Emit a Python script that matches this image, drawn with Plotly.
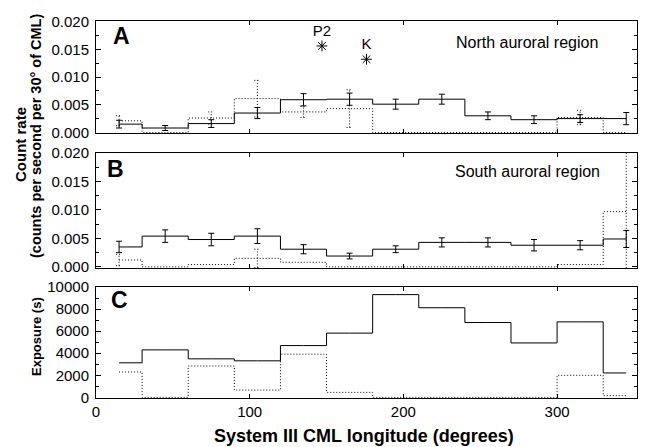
import plotly.graph_objects as go

# ---- data ----
cml = [15, 45, 75, 105, 135, 165, 195, 225, 255, 285, 315, 345]

north_solid = [0.0015, 0.0008, 0.0016, 0.0035, 0.0059, 0.0060, 0.0051, 0.0060, 0.0030, 0.0023, 0.0025, 0.0025]
north_solid_err = [0.0007, 0.00045, 0.0007, 0.0010, 0.0011, 0.0011, 0.0009, 0.0009, 0.0007, 0.0007, 0.0007, 0.0011]
north_dot = [0.0021, 0.0, 0.0026, 0.0061, 0.0037, 0.0043, 0.0, 0.0, 0.0, 0.0, 0.0027, 0.0]
north_dot_err = [0.0009, None, 0.0011, 0.0033, 0.0010, 0.0034, None, None, None, None, 0.0013, None]

south_solid = [0.0035, 0.0054, 0.0048, 0.0054, 0.0031, 0.0019, 0.0031, 0.0043, 0.0043, 0.0038, 0.0038, 0.0049]
south_solid_err = [0.0010, 0.0011, 0.0011, 0.0013, 0.0008, 0.0005, 0.0006, 0.0008, 0.0008, 0.0010, 0.0008, 0.0015]
south_dot = [0.0012, 0.0, 0.0004, 0.0015, 0.0008, 0.0, 0.0, 0.0, 0.0, 0.0, 0.0004, 0.0097]
south_dot_err = [0.0010, None, None, 0.0016, None, None, None, None, None, None, None, 0.0104]

expo_solid = [3130, 4300, 3490, 3310, 4690, 5820, 9310, 8120, 6780, 4930, 6840, 2210]
expo_dot = [2300, 0, 2840, 660, 3910, 450, 0, 0, 0, 0, 2000, 150]

features_x = [147, 176]
features_y = [0.0156, 0.0132]
features_lbl = ["P2", "K"]

x_ticks = [0, 100, 200, 300]

# ---- layout helpers (pixel geometry) ----
W, H = 645, 447
L, R, T, B = 96, 8, 21, 49
PW, PH = W - L - R, H - T - B
X_RANGE = [0, 352]
DEG_PER_PX = (X_RANGE[1] - X_RANGE[0]) / PW
CAP_PX = 3

def py(p):  # pixel y -> paper y
    return (H - B - p) / PH

def px(p):  # pixel x -> paper x
    return (p - L) / PW

FONT = "Liberation Sans, Arial, sans-serif"
BLACK = "black"
DOT = "1px,2px"

fig = go.Figure()

def dotted_errorbars(xa, ya, vals, errs):
    xs, ys = [], []
    cap = CAP_PX * DEG_PER_PX
    for c, v, e in zip(cml, vals, errs):
        if e is None:
            continue
        lo, hi = v - e, v + e
        xs += [c, c, None, c - cap, c + cap, None, c - cap, c + cap, None]
        ys += [lo, hi, None, lo, lo, None, hi, hi, None]
    fig.add_trace(go.Scatter(x=xs, y=ys, mode="lines", line=dict(color=BLACK, width=1, dash=DOT),
                             xaxis=xa, yaxis=ya, showlegend=False, hoverinfo="skip", connectgaps=False))

def solid_errorbars(xa, ya, vals, errs):
    fig.add_trace(go.Scatter(x=cml, y=vals, mode="markers", marker=dict(size=1, opacity=0),
                             error_y=dict(type="data", array=errs, symmetric=True, color=BLACK, thickness=1, width=CAP_PX),
                             xaxis=xa, yaxis=ya, showlegend=False, hoverinfo="skip"))

def add_panel(xa, ya, solid, dot, solid_err=None, dot_err=None):
    fig.add_trace(go.Scatter(x=cml, y=dot, mode="lines", line=dict(shape="hvh", color=BLACK, width=1, dash=DOT),
                             xaxis=xa, yaxis=ya, showlegend=False, hoverinfo="skip"))
    if dot_err is not None:
        dotted_errorbars(xa, ya, dot, dot_err)
    fig.add_trace(go.Scatter(x=cml, y=solid, mode="lines", line=dict(shape="hvh", color=BLACK, width=1),
                             xaxis=xa, yaxis=ya, showlegend=False, hoverinfo="skip"))
    if solid_err is not None:
        solid_errorbars(xa, ya, solid, solid_err)

add_panel("x", "y", north_solid, north_dot, north_solid_err, north_dot_err)
add_panel("x2", "y2", south_solid, south_dot, south_solid_err, south_dot_err)
add_panel("x3", "y3", expo_solid, expo_dot)

fig.add_trace(go.Scatter(x=features_x, y=features_y, mode="markers+text", text=features_lbl,
                         textposition="top center", textfont=dict(family=FONT, size=15, color=BLACK),
                         marker=dict(symbol="asterisk-open", size=9, color=BLACK, line=dict(width=1, color=BLACK)),
                         xaxis="x", yaxis="y", showlegend=False, hoverinfo="skip"))

tickfont = dict(family=FONT, size=15, color=BLACK)
common_x = dict(range=X_RANGE, tickvals=x_ticks, ticks="inside", ticklen=4, mirror="allticks",
                showline=True, linecolor=BLACK, linewidth=1, showgrid=False, zeroline=False,
                tickfont=tickfont, tickcolor=BLACK)
common_y = dict(ticks="inside", ticklen=5, mirror="allticks", showline=True, linecolor=BLACK, linewidth=1,
                showgrid=False, zeroline=False, tickfont=tickfont, tickcolor=BLACK, ticklabelstandoff=3)

fig.update_layout(
    width=W, height=H, margin=dict(l=L, r=R, t=T, b=B),
    paper_bgcolor="white", plot_bgcolor="white",
    xaxis=dict(common_x, domain=[0, 1], anchor="y", showticklabels=False),
    xaxis2=dict(common_x, domain=[0, 1], anchor="y2", showticklabels=False),
    xaxis3=dict(common_x, domain=[0, 1], anchor="y3"),
    yaxis=dict(common_y, domain=[py(133), 1.0], anchor="x", range=[-0.0001, 0.0201],
               tickvals=[0, 0.005, 0.010, 0.015, 0.020], tickformat=".3f",
               minor=dict(dtick=0.0025, tick0=0, ticks="inside", ticklen=3, tickcolor=BLACK)),
    yaxis2=dict(common_y, domain=[py(268), py(153)], anchor="x2", range=[-0.0002, 0.0200],
                tickvals=[0, 0.005, 0.010, 0.015, 0.020], tickformat=".3f",
                minor=dict(dtick=0.0025, tick0=0, ticks="inside", ticklen=3, tickcolor=BLACK)),
    yaxis3=dict(common_y, domain=[0, py(287)], anchor="x3", range=[-60, 10000],
                tickvals=[0, 2000, 4000, 6000, 8000, 10000], tickformat="d",
                minor=dict(dtick=1000, tick0=0, ticks="inside", ticklen=3, tickcolor=BLACK)),
)

def ann(text, x, y, size, bold=False, angle=0, xanchor="center"):
    fig.add_annotation(text=text, x=px(x), y=py(y), xref="paper", yref="paper", showarrow=False,
                       xanchor=xanchor, yanchor="middle", textangle=angle,
                       font=dict(family=FONT, size=size, color=BLACK, weight="bold" if bold else "normal"))

ann("A", 111, 36, 23, bold=True, xanchor="left")
ann("B", 105, 169, 23, bold=True, xanchor="left")
ann("C", 109, 300, 23, bold=True, xanchor="left")
ann("North auroral region", 527, 42, 16)
ann("South auroral region", 527, 171, 16)
ann("Count rate", 20, 145, 15, bold=True, angle=-90)
ann("(counts per second per 30° of CML)", 36, 136, 14.5, bold=True, angle=-90)
ann("Exposure (s)", 36, 337, 13, bold=True, angle=-90)
ann("System III CML longitude (degrees)", 364, 436, 18, bold=True)

fig.write_html("out.html")
